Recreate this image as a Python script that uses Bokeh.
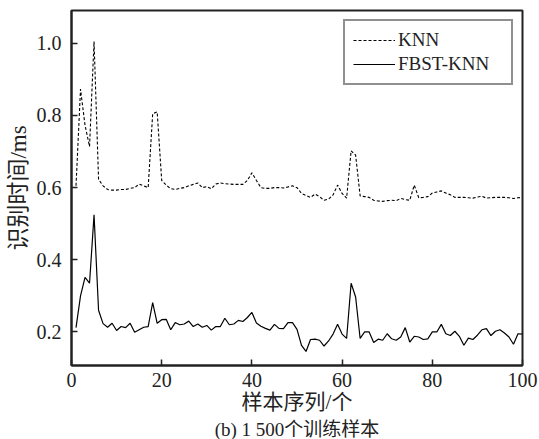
from bokeh.plotting import figure
from bokeh.models import Legend, LegendItem, Title, FixedTicker, NumeralTickFormatter
from bokeh.embed import file_html
from bokeh.resources import INLINE

samples = list(range(1, 101))

knn_ms = [
    0.605, 0.873, 0.773, 0.714, 1.005, 0.623, 0.605, 0.595, 0.593, 0.593,
    0.595, 0.595, 0.598, 0.600, 0.610, 0.605, 0.600, 0.805, 0.810, 0.620,
    0.607, 0.597, 0.595, 0.598, 0.600, 0.605, 0.609, 0.613, 0.600, 0.603,
    0.597, 0.610, 0.613, 0.611, 0.610, 0.609, 0.609, 0.609, 0.620, 0.641,
    0.620, 0.600, 0.598, 0.598, 0.600, 0.600, 0.599, 0.602, 0.605, 0.600,
    0.584, 0.578, 0.573, 0.582, 0.575, 0.565, 0.568, 0.580, 0.607, 0.584,
    0.571, 0.702, 0.690, 0.577, 0.575, 0.573, 0.565, 0.563, 0.562, 0.564,
    0.565, 0.564, 0.570, 0.567, 0.565, 0.607, 0.572, 0.573, 0.575, 0.585,
    0.588, 0.591, 0.585, 0.580, 0.573, 0.573, 0.573, 0.572, 0.571, 0.574,
    0.576, 0.571, 0.572, 0.573, 0.573, 0.573, 0.572, 0.570, 0.572, 0.573,
]

fbst_knn_ms = [
    0.212, 0.300, 0.351, 0.335, 0.525, 0.260, 0.223, 0.213, 0.224, 0.204,
    0.215, 0.212, 0.224, 0.199, 0.206, 0.213, 0.215, 0.281, 0.224, 0.234,
    0.235, 0.206, 0.226, 0.220, 0.222, 0.230, 0.215, 0.222, 0.213, 0.218,
    0.205, 0.215, 0.215, 0.238, 0.220, 0.222, 0.232, 0.229, 0.240, 0.254,
    0.225, 0.216, 0.210, 0.205, 0.221, 0.210, 0.209, 0.226, 0.226, 0.207,
    0.163, 0.146, 0.179, 0.180, 0.177, 0.161, 0.175, 0.194, 0.221, 0.194,
    0.182, 0.335, 0.297, 0.182, 0.200, 0.200, 0.171, 0.180, 0.177, 0.195,
    0.181, 0.177, 0.186, 0.212, 0.172, 0.188, 0.186, 0.179, 0.181, 0.200,
    0.200, 0.221, 0.195, 0.190, 0.202, 0.188, 0.163, 0.183, 0.179, 0.191,
    0.206, 0.209, 0.190, 0.202, 0.206, 0.197, 0.186, 0.166, 0.195, 0.194,
]

x_ticks = [0, 20, 40, 60, 80, 100]
y_ticks = [0.2, 0.4, 0.6, 0.8, 1.0]
x_label = "样本序列/个"
y_label = "识别时间/ms"
subtitle = "(b) 1 500个训练样本"
series_names = ["KNN", "FBST-KNN"]

SERIF = "Liberation Serif"
FONT = "'Liberation Serif', 'Noto Sans CJK SC'"
INK = "#222222"

p = figure(width=539, height=439, x_range=(0, 100), y_range=(0.107, 1.091),
           output_backend="svg", toolbar_location=None,
           min_border_left=71, min_border_right=17, min_border_top=10,
           min_border_bottom=0)
p.background_fill_color = "white"
p.border_fill_color = "white"
p.outline_line_color = INK
p.outline_line_width = 2
p.xgrid.visible = False
p.ygrid.visible = False

r1 = p.line(samples, knn_ms, line_color="black", line_width=1.1, line_dash="3 2")
r2 = p.line(samples, fbst_knn_ms, line_color="black", line_width=1.2)

for ax in (p.xaxis[0], p.yaxis[0]):
    ax.axis_line_color = INK
    ax.axis_line_width = 2
    ax.major_tick_in = 6
    ax.major_tick_out = 0
    ax.major_tick_line_color = INK
    ax.major_tick_line_width = 1.5
    ax.minor_tick_line_color = None
    ax.major_label_text_font = SERIF
    ax.major_label_text_font_size = "20px"
    ax.major_label_text_color = INK
    ax.axis_label_text_font = FONT
    ax.axis_label_text_font_style = "normal"
    ax.axis_label_text_color = INK

p.xaxis[0].ticker = FixedTicker(ticks=x_ticks)
p.yaxis[0].ticker = FixedTicker(ticks=y_ticks)
p.yaxis[0].formatter = NumeralTickFormatter(format="0.0")
p.xaxis[0].axis_label = x_label
p.yaxis[0].axis_label = y_label
p.xaxis[0].axis_label_text_font_size = "21px"
p.yaxis[0].axis_label_text_font_size = "23px"
p.xaxis[0].major_label_standoff = 7
p.xaxis[0].axis_label_standoff = 0
p.yaxis[0].major_label_standoff = 10
p.yaxis[0].axis_label_standoff = 3

p.add_layout(Title(text=subtitle, align="center", text_font=FONT,
                   text_font_size="19px", text_font_style="normal",
                   text_color=INK, standoff=0, offset=-8), "below")

legend = Legend(items=[LegendItem(label=series_names[0], renderers=[r1]),
                       LegendItem(label=series_names[1], renderers=[r2])],
                location="top_right")
legend.label_text_font = SERIF
legend.label_text_font_size = "19px"
legend.label_text_color = INK
legend.glyph_width = 42
legend.glyph_height = 18
legend.label_height = 18
legend.label_width = 105
legend.label_standoff = 3
legend.spacing = 2
legend.padding = 8
legend.margin = 9
legend.border_line_color = INK
legend.border_line_width = 2
legend.background_fill_alpha = 1
p.add_layout(legend)

open("out.html", "w").write(file_html(p, INLINE))
